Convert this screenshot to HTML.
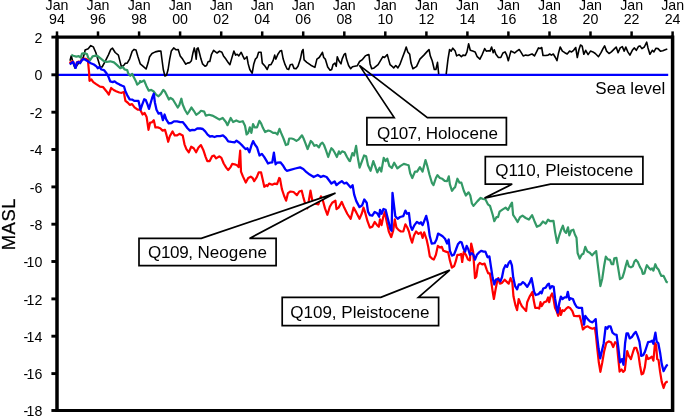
<!DOCTYPE html>
<html><head><meta charset="utf-8"><title>Chart</title>
<style>
html,body{margin:0;padding:0;background:#fff;}
svg{display:block;}
text{font-family:"Liberation Sans",Arial,sans-serif;fill:#000;}
.t{font-size:14.2px;}
.c{font-size:17.05px;}
.m{font-size:18.4px;letter-spacing:0.6px;stroke:#000;stroke-width:0.25px;}
.b{stroke:#000;stroke-width:1.7;stroke-linejoin:miter;}
</style></head><body>
<svg width="685" height="417" viewBox="0 0 685 417">
<rect width="685" height="417" fill="#fff"/>

<text class="t" x="57.0" y="9.6" text-anchor="middle">Jan</text>
<text class="t" x="57.0" y="23.9" text-anchor="middle">94</text>
<line x1="57.0" y1="31.4" x2="57.0" y2="37.1" stroke="#000" stroke-width="2.5"/>
<text class="t" x="98.0" y="9.6" text-anchor="middle">Jan</text>
<text class="t" x="98.0" y="23.9" text-anchor="middle">96</text>
<line x1="98.0" y1="31.4" x2="98.0" y2="37.1" stroke="#000" stroke-width="2.5"/>
<text class="t" x="139.1" y="9.6" text-anchor="middle">Jan</text>
<text class="t" x="139.1" y="23.9" text-anchor="middle">98</text>
<line x1="139.1" y1="31.4" x2="139.1" y2="37.1" stroke="#000" stroke-width="2.5"/>
<text class="t" x="180.1" y="9.6" text-anchor="middle">Jan</text>
<text class="t" x="180.1" y="23.9" text-anchor="middle">00</text>
<line x1="180.1" y1="31.4" x2="180.1" y2="37.1" stroke="#000" stroke-width="2.5"/>
<text class="t" x="221.2" y="9.6" text-anchor="middle">Jan</text>
<text class="t" x="221.2" y="23.9" text-anchor="middle">02</text>
<line x1="221.2" y1="31.4" x2="221.2" y2="37.1" stroke="#000" stroke-width="2.5"/>
<text class="t" x="262.2" y="9.6" text-anchor="middle">Jan</text>
<text class="t" x="262.2" y="23.9" text-anchor="middle">04</text>
<line x1="262.2" y1="31.4" x2="262.2" y2="37.1" stroke="#000" stroke-width="2.5"/>
<text class="t" x="303.2" y="9.6" text-anchor="middle">Jan</text>
<text class="t" x="303.2" y="23.9" text-anchor="middle">06</text>
<line x1="303.2" y1="31.4" x2="303.2" y2="37.1" stroke="#000" stroke-width="2.5"/>
<text class="t" x="344.3" y="9.6" text-anchor="middle">Jan</text>
<text class="t" x="344.3" y="23.9" text-anchor="middle">08</text>
<line x1="344.3" y1="31.4" x2="344.3" y2="37.1" stroke="#000" stroke-width="2.5"/>
<text class="t" x="385.3" y="9.6" text-anchor="middle">Jan</text>
<text class="t" x="385.3" y="23.9" text-anchor="middle">10</text>
<line x1="385.3" y1="31.4" x2="385.3" y2="37.1" stroke="#000" stroke-width="2.5"/>
<text class="t" x="426.4" y="9.6" text-anchor="middle">Jan</text>
<text class="t" x="426.4" y="23.9" text-anchor="middle">12</text>
<line x1="426.4" y1="31.4" x2="426.4" y2="37.1" stroke="#000" stroke-width="2.5"/>
<text class="t" x="467.4" y="9.6" text-anchor="middle">Jan</text>
<text class="t" x="467.4" y="23.9" text-anchor="middle">14</text>
<line x1="467.4" y1="31.4" x2="467.4" y2="37.1" stroke="#000" stroke-width="2.5"/>
<text class="t" x="508.4" y="9.6" text-anchor="middle">Jan</text>
<text class="t" x="508.4" y="23.9" text-anchor="middle">16</text>
<line x1="508.4" y1="31.4" x2="508.4" y2="37.1" stroke="#000" stroke-width="2.5"/>
<text class="t" x="549.5" y="9.6" text-anchor="middle">Jan</text>
<text class="t" x="549.5" y="23.9" text-anchor="middle">18</text>
<line x1="549.5" y1="31.4" x2="549.5" y2="37.1" stroke="#000" stroke-width="2.5"/>
<text class="t" x="590.5" y="9.6" text-anchor="middle">Jan</text>
<text class="t" x="590.5" y="23.9" text-anchor="middle">20</text>
<line x1="590.5" y1="31.4" x2="590.5" y2="37.1" stroke="#000" stroke-width="2.5"/>
<text class="t" x="631.6" y="9.6" text-anchor="middle">Jan</text>
<text class="t" x="631.6" y="23.9" text-anchor="middle">22</text>
<line x1="631.6" y1="31.4" x2="631.6" y2="37.1" stroke="#000" stroke-width="2.5"/>
<text class="t" x="672.6" y="9.6" text-anchor="middle">Jan</text>
<text class="t" x="672.6" y="23.9" text-anchor="middle">24</text>
<line x1="672.6" y1="31.4" x2="672.6" y2="37.1" stroke="#000" stroke-width="2.5"/>
<text class="t" x="42.3" y="42.7" text-anchor="end">2</text>
<line x1="51.4" y1="37.1" x2="57.0" y2="37.1" stroke="#000" stroke-width="2.9"/>
<text class="t" x="42.3" y="80.4" text-anchor="end">0</text>
<line x1="51.4" y1="74.8" x2="57.0" y2="74.8" stroke="#000" stroke-width="2.9"/>
<text class="t" x="42.3" y="117.8" text-anchor="end">-2</text>
<line x1="51.4" y1="112.2" x2="57.0" y2="112.2" stroke="#000" stroke-width="2.9"/>
<text class="t" x="42.3" y="155.1" text-anchor="end">-4</text>
<line x1="51.4" y1="149.5" x2="57.0" y2="149.5" stroke="#000" stroke-width="2.9"/>
<text class="t" x="42.3" y="192.5" text-anchor="end">-6</text>
<line x1="51.4" y1="186.9" x2="57.0" y2="186.9" stroke="#000" stroke-width="2.9"/>
<text class="t" x="42.3" y="229.8" text-anchor="end">-8</text>
<line x1="51.4" y1="224.2" x2="57.0" y2="224.2" stroke="#000" stroke-width="2.9"/>
<text class="t" x="42.3" y="267.1" text-anchor="end">10</text>
<text class="t" x="28.2" y="267.1" text-anchor="end">-</text>
<line x1="51.4" y1="261.5" x2="57.0" y2="261.5" stroke="#000" stroke-width="2.9"/>
<text class="t" x="42.3" y="304.5" text-anchor="end">12</text>
<text class="t" x="28.2" y="304.5" text-anchor="end">-</text>
<line x1="51.4" y1="298.9" x2="57.0" y2="298.9" stroke="#000" stroke-width="2.9"/>
<text class="t" x="42.3" y="341.8" text-anchor="end">14</text>
<text class="t" x="28.2" y="341.8" text-anchor="end">-</text>
<line x1="51.4" y1="336.2" x2="57.0" y2="336.2" stroke="#000" stroke-width="2.9"/>
<text class="t" x="42.3" y="379.2" text-anchor="end">16</text>
<text class="t" x="28.2" y="379.2" text-anchor="end">-</text>
<line x1="51.4" y1="373.6" x2="57.0" y2="373.6" stroke="#000" stroke-width="2.9"/>
<text class="t" x="42.3" y="416.1" text-anchor="end">18</text>
<text class="t" x="28.2" y="416.1" text-anchor="end">-</text>
<line x1="51.4" y1="410.5" x2="57.0" y2="410.5" stroke="#000" stroke-width="2.9"/>
<text class="m" transform="translate(14.7,224.1) rotate(-90)" text-anchor="middle">MASL</text>
<line x1="57.0" y1="74.9" x2="668.2" y2="74.9" stroke="#0000ff" stroke-width="2.1"/>
<polyline points="70.0,60.7 71.3,55.7 72.5,60.7 73.8,65.1 75.1,68.1 77.6,64.5 80.7,60.7 83.2,57.6 84.5,53.2 85.1,50.0 88.2,48.8 90.8,45.6 93.3,46.9 95.8,52.5 97.7,58.8 100.2,67.0 102.1,67.0 105.2,61.3 108.3,55.1 110.8,49.4 112.5,48.2 115.2,52.5 118.4,55.1 120.3,62.6 121.5,67.0 124.0,65.1 125.3,63.2 127.2,63.2 129.7,58.8 132.2,51.3 134.1,49.4 136.0,50.0 137.8,56.3 140.3,63.9 143.2,66.3 146.1,69.0 148.0,63.1 149.6,56.7 152.0,53.5 155.3,51.9 158.5,51.1 160.9,51.1 161.7,57.5 163.3,69.5 164.9,76.0 166.5,75.2 168.1,69.5 169.7,59.1 171.3,51.1 173.7,47.9 176.1,49.8 178.2,49.5 180.2,55.9 182.6,59.1 185.8,64.2 187.4,63.1 189.8,62.6 191.4,60.7 193.0,52.7 194.3,47.9 195.4,52.7 196.2,59.1 197.0,48.6 198.1,47.9 199.4,52.7 201.0,59.1 202.6,63.9 205.0,66.3 206.6,65.5 208.2,61.5 209.8,61.5 211.5,54.3 213.6,50.3 215.5,51.9 217.1,53.0 219.5,51.1 221.9,52.3 223.5,55.9 225.9,59.1 228.0,62.3 229.9,64.7 231.5,59.1 233.9,51.1 235.6,55.1 237.2,54.3 238.8,55.9 241.2,52.3 242.8,55.9 244.4,59.1 246.3,57.5 246.9,56.7 248.2,63.9 249.8,69.5 252.2,73.2 253.8,63.9 255.4,59.1 257.0,57.5 258.6,52.3 261.1,52.3 262.3,63.1 265.1,66.3 267.2,69.5 269.1,64.7 271.0,64.7 273.1,60.7 274.7,55.1 275.8,59.1 277.9,54.3 280.0,51.1 281.6,50.6 283.2,59.1 285.1,64.7 287.1,69.0 288.7,69.5 290.3,64.7 292.4,64.2 294.0,68.4 296.1,68.7 298.0,66.3 300.4,59.1 302.0,51.1 303.1,49.5 304.1,59.9 306.8,62.3 310.8,65.2 314.9,67.4 316.9,59.1 319.2,57.5 321.3,54.3 322.4,52.3 323.7,57.5 325.3,59.1 327.7,67.1 330.1,70.3 331.7,69.5 333.0,64.7 334.9,63.1 336.2,66.3 337.3,56.7 338.9,60.7 341.0,63.9 342.1,59.1 344.2,54.3 345.4,53.5 346.5,59.1 348.6,65.5 350.7,68.7 352.4,66.8 354.8,66.3 357.2,65.8 359.6,61.5 362.0,59.9 365.3,55.9 366.9,55.1 368.9,54.6 370.1,63.9 371.7,68.7 374.1,67.9 378.1,64.7 380.5,60.7 382.9,56.7 384.5,57.5 387.3,54.6 388.5,59.1 390.1,64.7 392.1,66.3 393.7,67.9 395.8,65.5 397.9,67.9 399.8,64.7 402.2,58.3 404.6,51.9 406.2,47.0 407.8,51.9 409.7,54.3 411.0,63.1 412.9,68.7 415.5,67.1 416.6,66.3 419.9,59.1 423.9,55.1 426.8,51.9 429.0,49.5 430.3,55.9 432.2,60.7 434.3,69.5 435.9,69.5 437.5,62.3 438.7,74.2" fill="none" stroke="#000" stroke-width="1.6" stroke-linejoin="round" stroke-linecap="butt"/>
<polyline points="446.2,74.2 448.0,59.1 449.6,49.5 451.2,51.1 452.8,48.2 455.2,51.1 456.6,55.9 459.0,54.6 461.4,56.7 463.0,55.1 465.4,55.5 467.0,51.9 468.6,43.8 470.3,50.3 472.7,51.1 475.1,51.9 477.2,56.7 479.9,59.1 482.3,54.3 484.7,48.6 486.3,51.1 488.7,50.7 490.0,51.1 491.6,47.0 493.2,52.7 494.3,49.8 495.9,54.3 498.4,57.5 500.8,57.5 502.9,53.0 505.1,51.9 506.7,55.1 508.3,60.7 509.6,55.9 510.9,51.1 512.8,51.9 514.7,53.0 516.8,51.1 519.2,49.5 520.8,51.9 523.2,55.9 525.7,55.1 528.1,55.5 530.5,54.6 532.1,54.0 534.5,55.9 536.9,51.1 538.5,47.9 540.1,48.6 541.7,47.5 543.0,55.5 545.7,55.5 548.1,55.1 549.7,54.0 551.4,55.1 553.3,54.0 555.4,57.5 557.0,60.7 558.6,52.7 560.2,47.0 562.4,51.1 564.8,52.7 567.2,54.0 569.6,51.1 571.6,51.9 573.6,50.3 575.7,47.5 577.3,57.5 579.0,49.5 580.5,45.0 582.2,46.2 583.8,54.3 585.7,50.3 588.1,54.6 590.5,51.1 592.9,51.9 595.3,53.5 598.5,56.7 601.0,52.7 603.0,48.6 604.6,45.9 606.6,51.1 609.0,53.5 611.4,51.9 614.6,48.6 616.2,47.0 618.1,52.7 620.2,47.9 622.3,46.6 624.2,51.1 625.8,47.0 627.8,51.9 629.9,55.1 632.3,50.3 634.2,47.9 636.3,50.3 638.4,46.6 640.0,45.9 641.9,48.6 644.3,47.0 646.7,42.2 648.0,47.9 649.9,54.3 652.3,50.3 653.9,51.9 656.0,48.2 658.0,48.6 660.4,51.1 662.8,50.7 665.2,49.8 667.3,49.1" fill="none" stroke="#000" stroke-width="1.6" stroke-linejoin="round" stroke-linecap="butt"/>
<polyline points="71.3,54.8 73.2,55.7 76.3,56.6 78.8,56.1 80.7,57.6 82.0,53.6 84.5,53.2 87.0,54.1 88.2,57.6 90.1,60.1 92.6,56.3 95.8,55.7 97.7,56.1 100.2,58.2 103.3,60.7 106.5,62.0 110.2,61.3 114.0,62.4 117.1,65.1 120.3,68.2 122.8,67.0 124.7,69.5 127.2,70.1 128.4,73.9 130.3,75.8 132.2,73.9 134.1,77.7 136.0,81.4 137.2,84.6 139.7,82.7 140.0,81.1 141.6,81.9 144.0,80.3 146.4,85.9 148.8,90.7 151.2,89.9 153.7,91.5 156.1,94.7 158.5,96.3 160.9,93.9 163.3,89.9 164.9,91.5 167.3,96.3 168.9,99.5 170.5,97.9 172.9,99.5 175.3,103.5 177.7,107.5 179.3,105.2 181.4,98.7 182.6,104.3 185.0,110.0 187.4,114.0 189.0,111.6 191.4,107.5 193.8,110.8 196.2,114.8 198.6,113.2 201.0,110.8 204.2,111.6 205.8,115.6 209.1,114.8 212.3,115.6 215.5,117.2 219.5,119.6 222.7,118.0 225.9,122.0 227.5,125.2 230.7,118.0 233.1,122.0 236.3,120.4 239.6,122.0 242.8,121.2 245.0,125.7 246.6,134.5 248.2,132.9 249.8,127.3 251.4,132.9 253.0,124.1 254.6,127.3 257.0,127.3 259.4,120.9 261.1,123.3 263.0,128.1 265.1,132.1 268.3,130.5 270.7,131.3 273.1,132.9 275.5,132.9 277.4,134.5 279.5,128.9 281.1,132.9 283.5,138.5 285.9,145.0 288.0,144.2 289.2,138.5 291.6,138.5 294.0,139.3 296.4,140.9 298.8,139.3 302.0,135.3 303.6,138.5 305.2,142.6 307.6,149.0 309.2,145.0 310.8,140.9 312.4,142.6 314.4,145.8 316.5,145.0 318.9,147.4 320.5,144.2 322.4,142.6 324.0,145.0 326.1,150.6 328.2,157.0 330.1,151.4 331.4,148.2 333.0,149.8 334.9,153.0 336.9,157.0 338.9,151.4 340.1,153.8 342.1,151.4 344.6,152.2 347.0,157.0 349.4,161.0 350.0,161.1 352.4,153.1 354.0,155.5 356.1,145.9 357.7,157.1 359.6,167.6 362.0,161.1 364.1,155.5 366.1,156.3 368.0,165.2 370.6,170.8 373.3,161.1 375.4,166.8 377.3,172.4 379.7,167.6 381.3,171.6 383.7,157.9 385.6,161.1 387.3,158.7 389.3,165.9 391.8,168.0 394.2,162.7 397.4,168.4 400.6,165.9 403.8,163.9 407.0,164.8 408.6,165.2 410.2,173.2 412.3,178.0 415.0,171.6 417.1,171.6 419.9,167.1 422.6,171.6 425.5,160.0 427.1,165.2 429.5,174.8 431.9,182.8 433.5,185.2 435.9,178.0 437.5,175.1 439.9,178.0 442.3,178.8 444.7,180.9 447.1,181.2 448.8,176.4 449.9,184.4 452.0,190.8 454.4,187.6 455.0,187.5 457.4,178.7 459.5,182.7 461.4,182.7 463.8,190.7 465.9,195.5 468.6,192.3 470.3,195.5 471.9,203.5 473.5,205.9 477.5,201.1 480.7,197.9 483.1,199.0 485.5,199.5 487.9,204.3 490.0,205.9 492.7,214.8 494.3,221.2 496.4,217.2 498.0,217.2 499.6,211.6 502.4,209.6 505.6,207.6 508.0,210.0 510.4,205.2 512.0,202.7 513.1,214.8 515.2,218.0 517.6,222.0 520.0,217.2 522.5,215.6 525.7,218.0 528.9,219.6 532.1,215.1 534.5,221.2 536.9,226.8 540.1,225.2 543.0,221.5 545.7,223.6 548.1,219.6 550.0,221.2 553.5,220.9 555.1,232.1 557.2,243.0 559.3,235.3 561.2,229.7 562.9,225.7 564.5,231.3 566.1,232.9 568.0,227.3 569.3,235.3 571.2,230.5 573.3,229.7 574.9,234.5 576.5,237.7 577.6,253.0 579.7,258.6 581.8,254.6 583.4,253.8 585.3,246.9 587.3,251.4 589.8,252.7 592.1,255.4 594.2,253.0 596.2,251.1 597.5,262.3 599.1,275.1 600.4,286.1 602.3,278.4 604.2,265.5 605.8,256.7 607.9,259.4 610.0,259.9 611.6,264.2 613.2,264.2 614.3,258.3 616.4,257.8 618.0,267.1 620.0,279.2 622.4,277.6 624.0,272.7 625.6,266.3 627.2,260.7 628.8,266.3 630.9,267.4 632.8,266.3 634.4,261.5 636.0,259.9 638.0,262.3 640.0,267.1 641.6,269.5 642.8,273.9 644.4,273.5 645.7,268.7 646.9,265.2 648.9,267.9 650.5,269.5 652.1,268.4 653.4,270.6 655.3,264.2 656.9,267.9 658.5,269.5 659.8,272.7 661.4,275.9 663.6,275.9 665.2,279.2 666.5,281.9 667.8,282.5" fill="none" stroke="#339966" stroke-width="2.2" stroke-linejoin="round" stroke-linecap="butt"/>
<polyline points="69.4,62.9 71.3,62.0 72.8,61.3 74.2,64.4 75.7,66.9 77.0,62.2 78.8,61.5 80.1,62.6 82.0,59.7 83.8,58.7 85.7,58.8 87.9,60.1 89.1,72.6 89.5,80.8 91.4,79.5 93.3,82.1 95.8,83.9 100.0,86.7 103.2,87.2 106.4,91.2 108.8,94.5 111.2,88.0 113.7,90.0 116.1,91.2 119.3,92.5 121.7,92.8 123.8,92.0 125.4,100.9 127.6,102.5 129.7,104.9 132.1,104.1 134.5,107.3 137.7,109.7 140.2,109.7 142.6,114.5 144.6,112.9 146.6,116.9 148.5,129.8 150.1,122.5 151.7,122.5 153.8,120.2 155.4,127.4 157.8,127.4 160.2,128.2 162.6,130.6 165.0,129.8 166.6,135.4 168.2,141.8 169.8,136.2 172.6,131.4 174.7,135.4 177.1,135.4 179.5,133.8 182.7,135.4 184.5,144.3 186.4,149.1 188.8,152.3 191.2,146.7 193.7,148.3 196.1,152.3 198.5,147.5 200.9,145.1 203.3,149.9 205.7,157.1 207.3,161.1 209.7,161.1 212.1,156.3 214.0,155.5 216.1,158.4 219.3,156.3 221.4,157.9 223.7,163.5 226.2,167.6 228.2,170.0 230.6,167.1 232.2,163.9 234.6,164.3 237.0,165.2 238.6,167.1 240.2,150.7 241.0,171.6 242.9,176.4 245.8,182.5 248.2,178.0 250.7,176.7 252.6,178.0 254.2,181.2 256.8,177.2 258.7,172.4 261.1,172.4 262.7,179.6 264.3,186.8 266.4,185.2 267.5,186.0 269.1,183.6 272.3,184.7 274.7,183.6 277.1,184.1 279.2,178.0 280.0,178.7 281.9,189.1 284.0,195.5 286.1,200.7 288.0,193.1 290.4,191.5 293.6,192.0 296.9,195.2 299.3,191.5 301.7,190.7 303.3,197.1 304.9,202.7 307.3,208.4 308.9,200.3 310.5,190.7 312.1,199.5 314.5,203.5 318.5,204.3 320.9,196.3 322.6,199.5 325.0,208.4 327.4,214.8 329.8,206.8 332.2,202.7 335.4,200.7 336.5,209.2 338.6,207.6 341.8,201.9 344.2,207.6 347.4,214.0 350.7,218.8 353.6,207.6 356.3,212.4 359.5,218.8 361.9,213.2 363.5,207.6 365.1,212.4 367.5,221.2 369.9,227.6 372.3,226.8 374.7,222.0 377.1,225.2 378.8,226.8 380.0,219.4 381.6,225.1 383.2,217.0 384.8,212.2 386.7,221.9 388.8,231.5 391.2,237.1 393.2,230.7 394.8,219.4 396.4,227.5 398.5,229.9 400.9,231.5 403.3,231.5 405.4,224.3 407.3,227.5 408.9,231.5 410.5,237.9 412.1,242.7 414.0,235.5 416.1,231.5 418.5,233.9 420.9,232.3 422.6,237.9 424.2,232.3 426.6,239.5 428.2,246.8 429.8,256.4 432.2,258.8 433.8,259.6 435.9,254.8 437.8,245.9 440.2,247.6 441.8,246.8 443.4,250.8 445.8,251.6 448.2,252.4 449.9,260.4 451.9,267.6 454.2,266.0 455.8,261.2 457.4,254.8 459.5,254.8 461.1,254.0 462.2,262.0 463.8,251.6 465.9,254.8 468.0,259.6 469.9,260.4 471.2,243.5 473.1,251.6 475.0,278.1 476.3,276.5 477.9,265.3 479.8,262.9 482.2,264.4 484.6,263.6 486.6,269.3 488.2,273.3 489.8,273.3 491.1,280.5 492.7,291.8 493.9,299.0 495.6,289.3 497.2,281.3 498.3,278.1 499.9,283.7 502.0,282.9 504.7,279.7 507.1,282.1 508.7,283.7 510.6,278.1 512.3,282.1 513.5,296.6 515.5,305.4 517.1,310.2 518.7,299.0 520.3,303.0 521.9,306.2 524.0,308.6 526.1,311.0 527.2,302.2 529.6,296.6 532.5,291.8 533.6,299.8 535.2,307.8 537.6,307.8 539.2,308.6 540.5,302.2 541.6,306.2 544.0,302.2 546.5,301.4 548.1,297.4 549.2,302.2 550.5,296.6 552.1,293.4 553.4,298.2 555.0,307.8 556.9,311.8 558.2,315.8 559.8,307.8 560.9,315.0 562.5,310.2 564.1,311.0 566.2,308.6 568.1,307.0 570.0,307.9 572.4,311.1 574.0,315.9 577.2,316.2 579.6,315.9 581.2,321.5 582.9,329.5 585.3,327.1 587.7,326.3 590.1,327.9 592.5,328.7 594.9,327.9 595.9,335.0 597.2,347.9 598.8,362.3 600.4,371.9 602.3,362.3 604.2,351.1 606.3,343.0 608.7,341.4 611.1,342.2 613.2,347.0 615.1,342.2 616.8,343.0 618.0,355.9 619.6,371.6 621.6,369.5 623.2,371.9 624.8,370.3 626.1,359.1 627.2,351.1 628.8,355.9 630.9,359.1 632.8,352.7 634.4,347.9 636.3,347.9 638.4,354.3 640.0,365.5 641.6,374.3 643.2,373.5 644.9,367.1 646.5,355.1 648.1,359.1 649.7,358.3 651.8,356.7 653.4,360.7 655.0,343.0 656.1,344.6 657.2,359.1 658.5,359.9 660.1,371.9 661.7,381.6 663.6,388.0 665.2,383.2 666.5,381.9 667.8,381.9" fill="none" stroke="#ff0000" stroke-width="2.2" stroke-linejoin="round" stroke-linecap="butt"/>
<polyline points="69.8,64.5 71.9,62.6 73.2,62.0 74.4,65.1 75.7,67.9 77.0,62.6 78.8,62.0 80.1,63.2 82.0,60.1 83.8,59.1 85.7,60.1 88.2,61.6 90.8,63.2 93.9,64.5 96.4,66.4 97.7,68.2 99.5,67.0 101.4,69.5 103.9,70.1 106.5,73.3 108.3,76.4 110.2,81.4 112.7,82.1 114.6,81.4 117.1,83.3 119.6,84.6 122.2,85.8 124.0,86.5 125.4,91.2 127.3,95.3 129.7,99.3 132.1,99.6 134.5,100.9 138.5,100.9 140.5,109.7 142.1,104.9 144.2,99.3 145.8,100.1 147.4,104.1 149.0,108.9 150.6,103.3 152.2,97.7 153.8,93.7 154.9,102.5 156.5,109.7 158.6,113.7 161.0,112.9 162.9,120.2 164.6,114.5 166.2,119.3 168.7,123.4 171.5,123.0 173.9,121.4 177.1,121.4 180.3,122.1 182.7,122.1 185.1,125.0 187.5,128.2 189.9,130.6 192.3,129.8 194.7,130.1 197.2,128.5 200.4,128.5 202.8,129.0 205.2,131.4 207.6,134.6 210.0,136.5 212.1,136.2 214.5,137.0 216.9,136.2 220.2,136.2 223.0,135.4 225.8,137.8 228.2,141.4 231.4,141.9 234.6,142.3 236.5,140.7 239.4,142.7 242.6,145.9 245.5,149.1 247.4,148.3 249.4,152.3 251.5,145.1 253.1,141.1 254.7,144.3 257.1,147.5 259.5,155.5 261.9,153.9 264.3,157.1 266.7,161.1 268.0,163.5 269.9,162.7 272.3,162.3 273.9,152.6 275.6,164.3 277.1,162.7 280.4,162.3 282.8,165.2 285.2,169.2 286.8,170.8 290.4,169.8 295.3,168.5 300.1,167.4 303.3,169.0 306.5,172.2 309.7,174.6 313.7,177.0 317.7,175.0 320.9,177.0 323.4,175.9 326.6,177.0 329.0,180.3 331.4,183.5 334.6,181.4 336.5,185.1 339.4,182.7 341.8,181.1 344.2,183.5 346.6,182.7 350.7,187.5 352.6,185.1 354.2,194.7 356.3,201.1 359.5,207.1 362.2,205.2 364.3,199.5 366.7,202.7 368.0,211.6 369.9,215.1 372.3,215.6 374.7,211.9 377.1,213.2 379.2,216.7 380.0,209.8 381.6,213.8 383.5,209.0 385.6,209.8 388.0,219.4 390.4,229.1 391.6,230.7 392.5,192.8 395.3,216.2 397.7,218.7 400.1,217.0 403.3,216.2 405.4,210.6 407.0,213.8 408.9,213.0 410.5,225.9 412.1,229.9 414.5,225.1 416.9,221.9 419.3,223.5 420.9,222.3 422.6,225.1 424.2,221.1 426.2,215.9 427.9,222.7 429.8,236.3 431.7,243.5 434.6,243.2 436.5,239.5 438.1,233.6 440.2,234.7 442.6,236.3 445.0,238.7 447.1,243.5 448.7,239.5 449.9,250.8 451.9,255.6 453.9,254.8 455.8,250.0 457.9,244.3 460.0,241.9 461.6,242.3 463.5,248.4 465.1,251.6 466.7,245.9 468.3,249.2 469.9,254.8 471.9,253.2 473.5,254.8 475.0,259.6 476.9,254.8 479.0,252.4 481.4,250.8 483.4,251.6 485.4,251.6 487.5,257.2 489.4,256.4 491.1,267.7 492.7,278.1 494.3,284.5 495.9,279.7 498.3,278.9 500.4,281.3 502.0,277.3 503.6,269.3 505.5,265.3 507.1,266.9 508.7,262.9 510.3,260.9 511.9,265.3 513.2,277.3 515.1,286.1 517.1,289.3 518.7,284.5 520.8,284.5 522.9,282.1 524.8,283.7 527.2,286.9 529.6,282.9 531.5,278.1 532.8,284.5 534.1,291.8 535.7,295.0 538.4,294.2 540.5,291.8 541.6,293.4 543.2,288.5 545.7,287.7 547.6,284.5 548.9,283.7 550.1,288.5 551.8,286.1 553.7,286.9 555.0,298.2 556.6,307.8 557.7,312.6 559.3,303.0 560.9,296.6 562.5,299.0 564.6,297.4 566.5,297.4 567.8,291.8 569.4,299.8 570.0,298.2 572.9,299.0 574.8,303.8 576.7,307.0 578.8,307.9 582.0,307.9 583.2,319.1 584.1,324.7 585.3,315.9 587.7,319.1 590.1,321.5 592.5,322.3 594.1,320.7 595.7,319.1 597.0,335.1 598.6,348.8 600.2,358.4 601.8,351.2 603.7,343.2 605.6,327.1 607.3,328.7 608.5,326.3 610.5,326.3 612.5,332.7 614.6,334.3 616.6,334.8 618.2,346.4 620.0,362.3 621.9,359.1 623.5,364.7 625.1,343.0 626.5,333.5 628.1,333.5 629.7,338.4 631.8,337.1 634.2,333.5 635.8,331.9 637.5,335.9 639.4,341.6 640.7,350.4 641.2,355.9 643.2,355.1 644.9,351.9 646.5,347.0 648.1,342.2 650.5,341.7 652.1,340.6 653.4,343.8 653.8,340.8 655.4,332.7 656.7,341.6 658.3,343.2 660.1,352.7 661.7,363.9 663.6,371.1 665.2,367.9 666.9,365.2 667.8,364.7" fill="none" stroke="#0000ff" stroke-width="2.3" stroke-linejoin="round" stroke-linecap="butt"/>
<text class="c" x="665.4" y="93.9" text-anchor="end">Sea level</text>
<line x1="57.0" y1="35.6" x2="57.0" y2="412.0" stroke="#000" stroke-width="3.5"/>
<line x1="672.6" y1="35.6" x2="672.6" y2="412.0" stroke="#000" stroke-width="3.5"/>
<line x1="57.0" y1="37.1" x2="672.6" y2="37.1" stroke="#000" stroke-width="3.2"/>
<line x1="57.0" y1="410.5" x2="672.6" y2="410.5" stroke="#000" stroke-width="3.2"/>
<path class="b" d="M366.9,117.6 L394.2,117.6 L359.4,65.4 L427.4,117.6 L506.4,117.6 L506.4,144.9 L366.9,144.9 Z" fill="none"/>
<text class="c" x="377.1" y="138.9"><tspan letter-spacing="-0.5">Q107,</tspan><tspan letter-spacing="0.02"> Holocene</tspan></text>
<path class="b" d="M485.3,156.6 L642.9,156.6 L642.9,184.1 L550.5,184.1 L484.5,198.1 L512.2,184.1 L485.3,184.1 Z" fill="#fff"/>
<text class="c" x="495.3" y="175.9">Q110, Pleistocene</text>
<path class="b" d="M139,238.4 L201.3,238.4 L335.5,193.1 L249.5,238.4 L276.1,238.4 L276.1,265.7 L139,265.7 Z" fill="#fff"/>
<text class="c" x="148.0" y="257.7"><tspan letter-spacing="-0.35">Q109,</tspan><tspan letter-spacing="0.06"> Neogene</tspan></text>
<path class="b" d="M282.2,297.4 L380.8,297.4 L449.8,270.1 L418.4,297.4 L438.6,297.4 L438.6,325.7 L282.2,325.7 Z" fill="#fff"/>
<text class="c" x="290.2" y="317.7">Q109, Pleistocene</text>
</svg></body></html>
